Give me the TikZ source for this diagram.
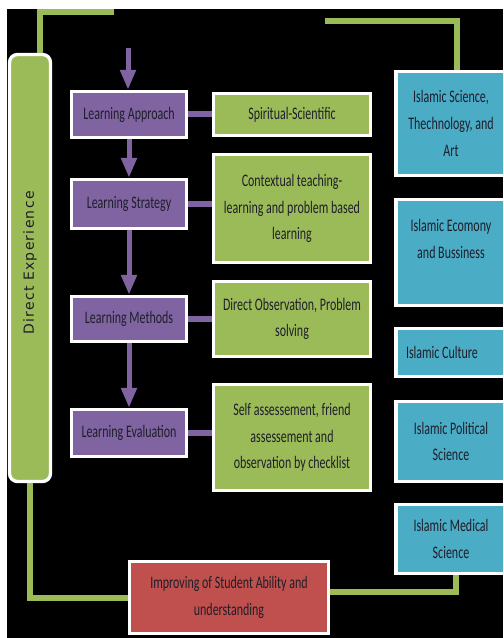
\documentclass[tikz,border=0pt]{standalone}
\usepackage{fontspec}
\usetikzlibrary{arrows.meta}
\newfontfamily\boxfont[FakeStretch=0.68]{Carlito}
\newfontfamily\sidefont[LetterSpace=9]{DejaVu Sans}
\definecolor{purpbox}{HTML}{8064A2}
\definecolor{greenbox}{HTML}{9BBB59}
\definecolor{bluebox}{HTML}{4BACC6}
\definecolor{redbox}{HTML}{C0504D}
\definecolor{boxtext}{HTML}{1E1E2A}

\tikzset{every picture/.style={line width=0.75pt}}
\tikzset{
  flowbox/.style={draw=white, line width=2.5pt, inner sep=2pt, align=center, text=boxtext,
    font=\boxfont\fontsize{13.2}{20}\selectfont},
  purpbox/.style={flowbox, fill=purpbox, minimum width=86.25pt},
  greenbox/.style={flowbox, fill=greenbox, minimum width=117.75pt},
  bluebox/.style={flowbox, fill=bluebox, minimum width=82.5pt},
  redbox/.style={flowbox, fill=redbox},
  greenline/.style={draw=greenbox, line width=4.5pt},
  purpline/.style={draw=purpbox, line width=4.5pt},
  purparrow/.style={draw=purpbox, line width=3.75pt, -{Triangle[width=11.25pt,length=15pt]}}
}

\begin{document}
\begin{tikzpicture}[x=0.75pt,y=0.75pt,yscale=-1,xscale=1]
\clip (0,0) rectangle (503,638);
\fill[white] (0,0) rectangle (503,638);
\fill[black] (7,9) rectangle (503,638);

%Shape: Rounded Rect
\node [flowbox, fill=greenbox, rounded corners=6pt, minimum width=30.75pt, minimum height=320.25pt] (dirExp) at (30,268) {};
\node [rotate=90, text=boxtext, font=\sidefont\fontsize{10.5}{12}\selectfont] (dirExpText) at (30,263) {Direct Experience};

%Shape: Rectangle (learning steps)
\node [purpbox, minimum height=34.5pt] (lrnAppr) at (129,114.5) {Learning Approach};
\node [purpbox, minimum height=36.75pt] (lrnStrat) at (129,204) {Learning Strategy};
\node [purpbox, minimum height=33.75pt] (lrnMeth) at (129,319) {Learning Methods};
\node [purpbox, minimum height=35.25pt] (lrnEval) at (129,433) {Learning Evaluation};

%Shape: Rectangle (contents)
\node [greenbox, minimum height=31.5pt] (spirit) at (292,114.5) {Spiritual-Scientific};
\node [greenbox, minimum height=81pt] (context) at (292,208.5) {Contextual teaching-\\learning and problem based\\learning};
\node [greenbox, minimum height=56.25pt] (observ) at (292,319) {Direct Observation, Problem\\solving};
\node [greenbox, minimum height=79.5pt] (assess) at (292,437.5) {Self assessement, friend\\assessement and\\observation by checklist};

%Shape: Rectangle (fields)
\node [bluebox, minimum height=78pt] (sciTech) at (451,123.5) {Islamic Science,\\Thechnology, and\\Art};
\node [bluebox, minimum height=79.5pt] (economy) at (451,252.5) {Islamic Ecomony\\and Bussiness\\ };
\node [bluebox, minimum height=36pt, text width=67.5pt, align=flush left] (culture) at (451,352.5) {Islamic Culture};
\node [bluebox, minimum height=60pt] (politic) at (451,441.5) {Islamic Political\\Science};
\node [bluebox, minimum height=51.75pt] (medical) at (451,539) {Islamic Medical\\Science};

%Shape: Rectangle (result)
\node [redbox, minimum width=149.25pt, minimum height=54pt] (improve) at (229,597.5) {Improving of Student Ability and\\understanding};

%Straight Lines
\coordinate (arrStart) at (128,48);
\draw [purparrow] (arrStart) -- (arrStart |- lrnAppr.north);
\draw [purparrow] (lrnAppr.south) -- (lrnStrat.north);
\draw [purparrow] (lrnStrat.south) -- (lrnMeth.north);
\draw [purparrow] (lrnMeth.south) -- (lrnEval.north);

\draw [purpline] (lrnAppr.east) -- (lrnAppr.east -| spirit.west);
\draw [purpline] (lrnStrat.east) -- (lrnStrat.east -| context.west);
\draw [purpline] (lrnMeth.east) -- (lrnMeth.east -| observ.west);
\draw [purpline] (lrnEval.east) -- (lrnEval.east -| assess.west);

%Straight Lines (frame)
\coordinate (topLeft) at (114,12);
\coordinate (topRight) at (325,21);
\draw [greenline] (topLeft) -| ([xshift=7.5pt]dirExp.north);
\draw [greenline] (topRight) -| ([xshift=4.5pt]sciTech.north);
\draw [greenline] (dirExp.south) |- (improve.west);
\draw [greenline] ([yshift=-4.5pt]improve.east) -| ([xshift=3.75pt]medical.south);

\end{tikzpicture}
\end{document}
